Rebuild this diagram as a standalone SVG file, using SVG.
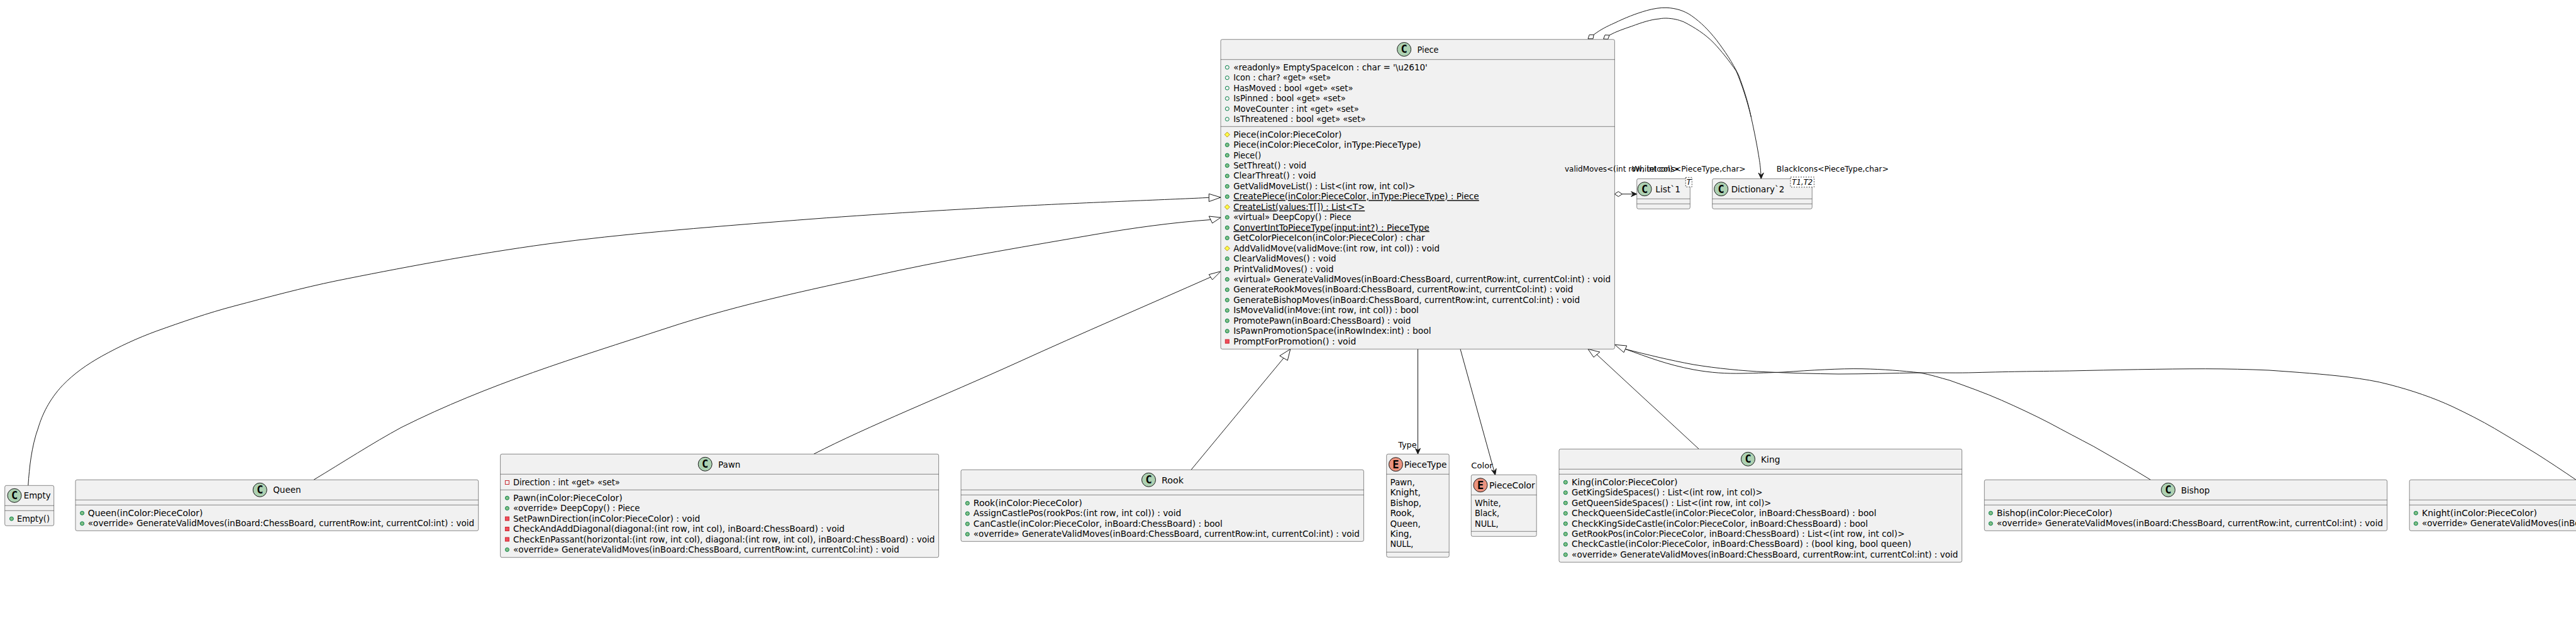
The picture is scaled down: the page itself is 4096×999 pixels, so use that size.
<svg xmlns="http://www.w3.org/2000/svg" width="4096" height="999" viewBox="0 0 4096 999">
<style>
text{font-family:"DejaVu Sans","Liberation Sans",sans-serif;font-size:14px;fill:#000}
.lbl{font-size:13px}
.u{text-decoration:underline}
.box{fill:#F1F1F1;stroke:#181818;stroke-width:.5}
.div{stroke:#181818;stroke-width:.5;fill:none}
.cc{fill:#ADD1B2;stroke:#181818;stroke-width:1}
.ce{fill:#EB937F;stroke:#181818;stroke-width:1}
.ic{font-family:"DejaVu Sans Mono","Liberation Mono",monospace;font-weight:bold;font-size:17px;text-anchor:middle}
.link{fill:none;stroke:#181818;stroke-width:1}
.gen{fill:#fff;stroke:#181818;stroke-width:1}
.hd{fill:#181818;stroke:#181818;stroke-width:1}
.tp{fill:#fff;stroke:#181818;stroke-width:.8;stroke-dasharray:2,2}
.tt{font-style:italic;font-size:12px;text-anchor:middle}
</style>
<defs>
<circle id="pub" r="3" fill="#84BE84" stroke="#038048"/>
<circle id="fld" r="3" fill="none" stroke="#038048"/>
<path id="pro" d="M0,-4 L4,0 L0,4 L-4,0 Z" fill="#FFFF44" stroke="#B38D22"/>
<rect id="pri" x="-3" y="-3" width="6" height="6" fill="#F24D5C" stroke="#C82930"/>
<rect id="prf" x="-3" y="-3" width="6" height="6" fill="none" stroke="#C82930"/>
</defs>
<rect width="4096" height="999" fill="#fff"/>
<g id="connectors">
<path class="link" d="M44.8,772 C46.5,745 50,710 61,680 C67,660 78,636 99.5,613 C118,594 138,580 161.7,566.7 C190,551 218,538 248.8,526.7 C290,512 330,498 373,486.7 C425,473 480,458 535,446.7 C628,428 753,404 871,388 C989,372 1120,362 1244,352 C1368,342 1504,334 1617,328 C1730,322 1871,317 1922,314.3"/>
<polygon class="gen" points="1941,314 1922.3,308.3 1922.3,320.7"/>
<path class="link" d="M498.8,763.3 C545,735.5 592,705 638,680 C778,610 917,569 1057,523 C1181,482 1306,457 1430,430 C1534,408 1637,391 1741,373 C1802,362.5 1864,354 1925,349.5"/>
<polygon class="gen" points="1941,346 1922.3,344 1927.7,355"/>
<path class="link" d="M1294,722.3 C1380,678 1500,630 1617,577 C1720,530 1830,483 1925,440.8"/>
<polygon class="gen" points="1941,431.7 1922.3,436.7 1927.7,445"/>
<path class="link" d="M1894,747.3 L2041,569.7"/>
<polygon class="gen" points="2051.8,555.3 2034.8,566 2047.3,573.3"/>
<path class="link" d="M2254.5,555.3 L2254.5,722.3"/>
<polygon class="hd" points="2254.5,722.3 2250.5,713.3 2254.5,716.3 2258.5,713.3"/>
<path class="link" d="M2322,555.3 L2377.5,755.7"/>
<polygon class="hd" points="2377.5,755.7 2371.5,747.5 2375.9,750 2379.2,745.4"/>
<path class="link" d="M2701,714 L2539,564"/>
<polygon class="gen" points="2525,555.3 2543.8,560 2534,568.3"/>
<path class="link" d="M3419.6,763.3 C3390,745 3360,728 3328.7,710 C3306,698 3283,686 3259,673 C3234,660 3208,648 3182.6,636.7 C3156,625 3128,615 3100,605 C3085,601 3070,596 3053,593 C3025,590 2995,587.3 2961,586.7 C2925,586 2880,589 2835,592 C2815,592.8 2795,593.5 2770,594 C2745,594.5 2720,593 2693,588 C2650,580 2620,568 2584.4,555.3"/>
<path class="link" d="M4096,763.3 C4075,749 4054,735 4033,721.7 C4011,708 3989,695 3966.7,681.7 C3945,669 3923,658 3900,647 C3870,633 3835,621 3799,611.7 C3778,606 3757,603 3735,600 C3695,595 3650,592 3608,589 C3575,587.5 3540,586.7 3506.6,586.7 C3440,586.7 3360,588.5 3290.6,590 C3250,590.5 3200,591 3140,592.7 C3115,593.5 3085,592.8 3053,593 C3010,593.5 2965,595 2923,595 C2885,594.5 2845,593.5 2808,591.7 C2770,590 2730,586 2693,580 C2655,573 2618,564 2584.4,555.3"/>
<polygon class="gen" points="2567.6,548.3 2586.7,550 2582,560.7"/>
<path class="link" d="M2534,55.3 C2545,47 2555,42 2567,36.7 C2585,28 2600,22 2618.4,16.7 C2630,13.5 2640,12 2650,12.3 C2665,13 2678,17 2689.6,25 C2705,36 2716,47 2729,63.3 C2743,82 2754,98 2764.7,120 C2772,140 2779,160 2784.5,186.7 C2789,207 2793,227 2796.3,246.7 C2798,258 2799.5,265 2800.3,284.3"/>
<path class="link" d="M2559,56 C2570,50 2582,46 2594.7,41.7 C2610,36 2625,31 2638,30 C2643,29 2646,29 2650,29 C2660,29.5 2668,31 2677.7,35 C2695,44 2711,54 2725,68.3 C2737,81 2749,96 2760.7,113 C2770,135 2778,160 2784.5,186.7"/>
<polygon class="hd" points="2800.3,284.3 2796,275 2800.3,278.5 2804.3,275"/>
<polygon class="gen" points="2525,61.7 2527.2,55.3 2534.2,55.3 2533,61.7"/>
<polygon class="gen" points="2549.6,62 2552,55.7 2559,56 2556.7,62.3"/>
<path class="link" d="M2579,308.7 L2602,308.7"/>
<polygon class="hd" points="2602.7,308.7 2593.7,304.7 2596.7,308.7 2593.7,312.7"/>
<polygon class="gen" points="2567.3,308.7 2573.3,304.7 2579.3,308.7 2573.3,312.7"/>
</g>
<g id="Piece">
<rect class="box" x="1941" y="62.7" width="626.4" height="492.6" rx="2.5"/>
<path class="div" d="M1941,94.7H2567.4M1941,201.3H2567.4"/>
<circle class="cc" cx="2232.6" cy="78.5" r="11"/><text class="ic" x="2232.6" y="84.2">C</text>
<text x="2253.6" y="84" textLength="33.9" lengthAdjust="spacingAndGlyphs">Piece</text>
<use href="#fld" x="1951.3" y="107.2"/><text x="1961.2" y="111.7" textLength="308.5" lengthAdjust="spacingAndGlyphs">«readonly» EmptySpaceIcon : char = '\u2610'</text>
<use href="#fld" x="1951.3" y="123.7"/><text x="1961.2" y="128.2" textLength="154.9" lengthAdjust="spacingAndGlyphs">Icon : char? «get» «set»</text>
<use href="#fld" x="1951.3" y="140.1"/><text x="1961.2" y="144.6" textLength="190.2" lengthAdjust="spacingAndGlyphs">HasMoved : bool «get» «set»</text>
<use href="#fld" x="1951.3" y="156.6"/><text x="1961.2" y="161.1" textLength="178.6" lengthAdjust="spacingAndGlyphs">IsPinned : bool «get» «set»</text>
<use href="#fld" x="1951.3" y="173"/><text x="1961.2" y="177.5" textLength="199.6" lengthAdjust="spacingAndGlyphs">MoveCounter : int «get» «set»</text>
<use href="#fld" x="1951.3" y="189.5"/><text x="1961.2" y="194" textLength="210.3" lengthAdjust="spacingAndGlyphs">IsThreatened : bool «get» «set»</text>
<use href="#pro" x="1951.3" y="214.1"/><text x="1961.2" y="218.6" textLength="172.3" lengthAdjust="spacingAndGlyphs">Piece(inColor:PieceColor)</text>
<use href="#pub" x="1951.3" y="230.5"/><text x="1961.2" y="235" textLength="298.2" lengthAdjust="spacingAndGlyphs">Piece(inColor:PieceColor, inType:PieceType)</text>
<use href="#pub" x="1951.3" y="247"/><text x="1961.2" y="251.5" textLength="44.2" lengthAdjust="spacingAndGlyphs">Piece()</text>
<use href="#pub" x="1951.3" y="263.4"/><text x="1961.2" y="267.9" textLength="116" lengthAdjust="spacingAndGlyphs">SetThreat() : void</text>
<use href="#pub" x="1951.3" y="279.9"/><text x="1961.2" y="284.4" textLength="131.3" lengthAdjust="spacingAndGlyphs">ClearThreat() : void</text>
<use href="#pub" x="1951.3" y="296.4"/><text x="1961.2" y="300.9" textLength="289.3" lengthAdjust="spacingAndGlyphs">GetValidMoveList() : List&lt;(int row, int col)&gt;</text>
<use href="#pub" x="1951.3" y="312.8"/><text class="u" x="1961.2" y="317.3" textLength="390.6" lengthAdjust="spacingAndGlyphs">CreatePiece(inColor:PieceColor, inType:PieceType) : Piece</text>
<use href="#pro" x="1951.3" y="329.3"/><text class="u" x="1961.2" y="333.8" textLength="209" lengthAdjust="spacingAndGlyphs">CreateList(values:T[]) : List&lt;T&gt;</text>
<use href="#pub" x="1951.3" y="345.7"/><text x="1961.2" y="350.2" textLength="187.5" lengthAdjust="spacingAndGlyphs">«virtual» DeepCopy() : Piece</text>
<use href="#pub" x="1951.3" y="362.2"/><text class="u" x="1961.2" y="366.7" textLength="311.6" lengthAdjust="spacingAndGlyphs">ConvertIntToPieceType(input:int?) : PieceType</text>
<use href="#pub" x="1951.3" y="378.6"/><text x="1961.2" y="383.1" textLength="304.5" lengthAdjust="spacingAndGlyphs">GetColorPieceIcon(inColor:PieceColor) : char</text>
<use href="#pro" x="1951.3" y="395.1"/><text x="1961.2" y="399.6" textLength="328" lengthAdjust="spacingAndGlyphs">AddValidMove(validMove:(int row, int col)) : void</text>
<use href="#pub" x="1951.3" y="411.5"/><text x="1961.2" y="416" textLength="163.4" lengthAdjust="spacingAndGlyphs">ClearValidMoves() : void</text>
<use href="#pub" x="1951.3" y="428"/><text x="1961.2" y="432.5" textLength="159.4" lengthAdjust="spacingAndGlyphs">PrintValidMoves() : void</text>
<use href="#pub" x="1951.3" y="444.4"/><text x="1961.2" y="448.9" textLength="600" lengthAdjust="spacingAndGlyphs">«virtual» GenerateValidMoves(inBoard:ChessBoard, currentRow:int, currentCol:int) : void</text>
<use href="#pub" x="1951.3" y="460.9"/><text x="1961.2" y="465.4" textLength="540.2" lengthAdjust="spacingAndGlyphs">GenerateRookMoves(inBoard:ChessBoard, currentRow:int, currentCol:int) : void</text>
<use href="#pub" x="1951.3" y="477.3"/><text x="1961.2" y="481.8" textLength="551" lengthAdjust="spacingAndGlyphs">GenerateBishopMoves(inBoard:ChessBoard, currentRow:int, currentCol:int) : void</text>
<use href="#pub" x="1951.3" y="493.8"/><text x="1961.2" y="498.3" textLength="294.6" lengthAdjust="spacingAndGlyphs">IsMoveValid(inMove:(int row, int col)) : bool</text>
<use href="#pub" x="1951.3" y="510.2"/><text x="1961.2" y="514.7" textLength="282.2" lengthAdjust="spacingAndGlyphs">PromotePawn(inBoard:ChessBoard) : void</text>
<use href="#pub" x="1951.3" y="526.7"/><text x="1961.2" y="531.2" textLength="314.3" lengthAdjust="spacingAndGlyphs">IsPawnPromotionSpace(inRowIndex:int) : bool</text>
<use href="#pri" x="1951.3" y="543.1"/><text x="1961.2" y="547.6" textLength="195" lengthAdjust="spacingAndGlyphs">PromptForPromotion() : void</text>
</g>
<g id="List1">
<rect class="box" x="2602.7" y="284.3" width="84.6" height="48" rx="2.5"/>
<path class="div" d="M2602.7,316.3H2687.3M2602.7,324.3H2687.3"/>
<rect class="tp" x="2680.3" y="282.3" width="10" height="15"/><text class="tt" x="2685.3" y="293.5">T</text>
<circle class="cc" cx="2615" cy="300.7" r="11"/><text class="ic" x="2615" y="306.5">C</text>
<text x="2632.3" y="306" textLength="39.7" lengthAdjust="spacingAndGlyphs">List`1</text>
</g>
<g id="Dictionary2">
<rect class="box" x="2722.7" y="284.3" width="158.6" height="48" rx="2.5"/>
<path class="div" d="M2722.7,316.3H2881.3M2722.7,324.3H2881.3"/>
<rect class="tp" x="2847" y="281.7" width="37.5" height="16"/><text class="tt" x="2865.8" y="293.5" textLength="33" lengthAdjust="spacingAndGlyphs">T1,T2</text>
<circle class="cc" cx="2736.7" cy="300.7" r="11"/><text class="ic" x="2736.7" y="306.5">C</text>
<text x="2752.7" y="306" textLength="84.6" lengthAdjust="spacingAndGlyphs">Dictionary`2</text>
</g>
<g id="Empty">
<rect class="box" x="7.7" y="772.3" width="78" height="64" rx="2.5"/>
<path class="div" d="M7.7,804.3H85.7M7.7,812.3H85.7"/>
<circle class="cc" cx="23" cy="788.3" r="11"/><text class="ic" x="23" y="794">C</text>
<text x="37.8" y="793.3" textLength="42.8" lengthAdjust="spacingAndGlyphs">Empty</text>
<use href="#pub" x="18.4" y="825.2"/><text x="27" y="829.7" textLength="52" lengthAdjust="spacingAndGlyphs">Empty()</text>
</g>
<g id="Queen">
<rect class="box" x="120" y="763.3" width="640.7" height="81" rx="2.5"/>
<path class="div" d="M120,795.3H760.7M120,803.3H760.7"/>
<circle class="cc" cx="413.3" cy="779.3" r="11"/><text class="ic" x="413.3" y="785">C</text>
<text x="434.2" y="784" textLength="44.4" lengthAdjust="spacingAndGlyphs">Queen</text>
<use href="#pub" x="130.6" y="816.2"/><text x="139.8" y="820.7" textLength="182.6" lengthAdjust="spacingAndGlyphs">Queen(inColor:PieceColor)</text>
<use href="#pub" x="130.6" y="832.8"/><text x="139.8" y="837.3" textLength="614.3" lengthAdjust="spacingAndGlyphs">«override» GenerateValidMoves(inBoard:ChessBoard, currentRow:int, currentCol:int) : void</text>
</g>
<g id="Pawn">
<rect class="box" x="795.6" y="722.3" width="697" height="164.4" rx="2.5"/>
<path class="div" d="M795.6,754.3H1492.6M795.6,779.3H1492.6"/>
<circle class="cc" cx="1121.2" cy="738.3" r="11"/><text class="ic" x="1121.2" y="744">C</text>
<text x="1142" y="744" textLength="35.3" lengthAdjust="spacingAndGlyphs">Pawn</text>
<use href="#prf" x="806.4" y="767.5"/><text x="815.9" y="772" textLength="169.9" lengthAdjust="spacingAndGlyphs">Direction : int «get» «set»</text>
<use href="#pub" x="806.4" y="792.2"/><text x="815.9" y="796.7" textLength="173.7" lengthAdjust="spacingAndGlyphs">Pawn(inColor:PieceColor)</text>
<use href="#pub" x="806.4" y="808.6"/><text x="815.9" y="813.1" textLength="201.5" lengthAdjust="spacingAndGlyphs">«override» DeepCopy() : Piece</text>
<use href="#pri" x="806.4" y="825.1"/><text x="815.9" y="829.6" textLength="297.3" lengthAdjust="spacingAndGlyphs">SetPawnDirection(inColor:PieceColor) : void</text>
<use href="#pri" x="806.4" y="841.5"/><text x="815.9" y="846" textLength="527.1" lengthAdjust="spacingAndGlyphs">CheckAndAddDiagonal(diagonal:(int row, int col), inBoard:ChessBoard) : void</text>
<use href="#pri" x="806.4" y="858"/><text x="815.9" y="862.5" textLength="670.6" lengthAdjust="spacingAndGlyphs">CheckEnPassant(horizontal:(int row, int col), diagonal:(int row, int col), inBoard:ChessBoard) : void</text>
<use href="#pub" x="806.4" y="874.4"/><text x="815.9" y="878.9" textLength="614" lengthAdjust="spacingAndGlyphs">«override» GenerateValidMoves(inBoard:ChessBoard, currentRow:int, currentCol:int) : void</text>
</g>
<g id="Rook">
<rect class="box" x="1528" y="747.3" width="640.4" height="114" rx="2.5"/>
<path class="div" d="M1528,779.3H2168.4M1528,787.3H2168.4"/>
<circle class="cc" cx="1826.5" cy="763.3" r="11"/><text class="ic" x="1826.5" y="769">C</text>
<text x="1847" y="769" textLength="35" lengthAdjust="spacingAndGlyphs">Rook</text>
<use href="#pub" x="1538.3" y="800.5"/><text x="1547.8" y="805" textLength="172.8" lengthAdjust="spacingAndGlyphs">Rook(inColor:PieceColor)</text>
<use href="#pub" x="1538.3" y="816.9"/><text x="1547.8" y="821.4" textLength="330.4" lengthAdjust="spacingAndGlyphs">AssignCastlePos(rookPos:(int row, int col)) : void</text>
<use href="#pub" x="1538.3" y="833.4"/><text x="1547.8" y="837.9" textLength="396" lengthAdjust="spacingAndGlyphs">CanCastle(inColor:PieceColor, inBoard:ChessBoard) : bool</text>
<use href="#pub" x="1538.3" y="849.8"/><text x="1547.8" y="854.3" textLength="614" lengthAdjust="spacingAndGlyphs">«override» GenerateValidMoves(inBoard:ChessBoard, currentRow:int, currentCol:int) : void</text>
</g>
<g id="PieceType">
<rect class="box" x="2204.7" y="722.3" width="99.5" height="164" rx="2.5"/>
<path class="div" d="M2204.7,754.3H2304.2M2204.7,878.3H2304.2"/>
<circle class="ce" cx="2219.4" cy="738.7" r="11"/><text class="ic" x="2219.4" y="744.5">E</text>
<text x="2232.8" y="744" textLength="67.6" lengthAdjust="spacingAndGlyphs">PieceType</text>
<text x="2210.4" y="771.7" textLength="39.5" lengthAdjust="spacingAndGlyphs">Pawn,</text>
<text x="2210.4" y="788.2" textLength="48.5" lengthAdjust="spacingAndGlyphs">Knight,</text>
<text x="2210.4" y="804.6" textLength="49.7" lengthAdjust="spacingAndGlyphs">Bishop,</text>
<text x="2210.4" y="821.1" textLength="38.9" lengthAdjust="spacingAndGlyphs">Rook,</text>
<text x="2210.4" y="837.5" textLength="48.5" lengthAdjust="spacingAndGlyphs">Queen,</text>
<text x="2210.4" y="854" textLength="34.4" lengthAdjust="spacingAndGlyphs">King,</text>
<text x="2210.4" y="870.4" textLength="37" lengthAdjust="spacingAndGlyphs">NULL,</text>
</g>
<g id="PieceColor">
<rect class="box" x="2339.3" y="755.3" width="103.9" height="98" rx="2.5"/>
<path class="div" d="M2339.3,787.3H2443.2M2339.3,845.3H2443.2"/>
<circle class="ce" cx="2354" cy="771.7" r="11"/><text class="ic" x="2354" y="777.5">E</text>
<text x="2368" y="777" textLength="72.7" lengthAdjust="spacingAndGlyphs">PieceColor</text>
<text x="2345" y="804.7" textLength="41.5" lengthAdjust="spacingAndGlyphs">White,</text>
<text x="2345" y="821.2" textLength="39" lengthAdjust="spacingAndGlyphs">Black,</text>
<text x="2345" y="837.6" textLength="37.6" lengthAdjust="spacingAndGlyphs">NULL,</text>
</g>
<g id="King">
<rect class="box" x="2479" y="714.3" width="640.6" height="180" rx="2.5"/>
<path class="div" d="M2479,746.3H3119.6M2479,754.3H3119.6"/>
<circle class="cc" cx="2779.5" cy="730.3" r="11"/><text class="ic" x="2779.5" y="736">C</text>
<text x="2800" y="736" textLength="30.4" lengthAdjust="spacingAndGlyphs">King</text>
<use href="#pub" x="2489.3" y="767.2"/><text x="2499.1" y="771.7" textLength="168.3" lengthAdjust="spacingAndGlyphs">King(inColor:PieceColor)</text>
<use href="#pub" x="2489.3" y="783.7"/><text x="2499.1" y="788.2" textLength="303.6" lengthAdjust="spacingAndGlyphs">GetKingSideSpaces() : List&lt;(int row, int col)&gt;</text>
<use href="#pub" x="2489.3" y="800.1"/><text x="2499.1" y="804.6" textLength="317.4" lengthAdjust="spacingAndGlyphs">GetQueenSideSpaces() : List&lt;(int row, int col)&gt;</text>
<use href="#pub" x="2489.3" y="816.6"/><text x="2499.1" y="821.1" textLength="484.4" lengthAdjust="spacingAndGlyphs">CheckQueenSideCastle(inColor:PieceColor, inBoard:ChessBoard) : bool</text>
<use href="#pub" x="2489.3" y="833"/><text x="2499.1" y="837.5" textLength="471" lengthAdjust="spacingAndGlyphs">CheckKingSideCastle(inColor:PieceColor, inBoard:ChessBoard) : bool</text>
<use href="#pub" x="2489.3" y="849.5"/><text x="2499.1" y="854" textLength="529.5" lengthAdjust="spacingAndGlyphs">GetRookPos(inColor:PieceColor, inBoard:ChessBoard) : List&lt;(int row, int col)&gt;</text>
<use href="#pub" x="2489.3" y="865.9"/><text x="2499.1" y="870.4" textLength="540" lengthAdjust="spacingAndGlyphs">CheckCastle(inColor:PieceColor, inBoard:ChessBoard) : (bool king, bool queen)</text>
<use href="#pub" x="2489.3" y="882.4"/><text x="2499.1" y="886.9" textLength="614.3" lengthAdjust="spacingAndGlyphs">«override» GenerateValidMoves(inBoard:ChessBoard, currentRow:int, currentCol:int) : void</text>
</g>
<g id="Bishop">
<rect class="box" x="3155.3" y="763.3" width="640.4" height="81" rx="2.5"/>
<path class="div" d="M3155.3,795.3H3795.7M3155.3,803.3H3795.7"/>
<circle class="cc" cx="3447.5" cy="779.3" r="11"/><text class="ic" x="3447.5" y="785">C</text>
<text x="3467.9" y="785" textLength="45.7" lengthAdjust="spacingAndGlyphs">Bishop</text>
<use href="#pub" x="3165.4" y="816.2"/><text x="3175" y="820.7" textLength="183.6" lengthAdjust="spacingAndGlyphs">Bishop(inColor:PieceColor)</text>
<use href="#pub" x="3165.4" y="832.8"/><text x="3175" y="837.3" textLength="614" lengthAdjust="spacingAndGlyphs">«override» GenerateValidMoves(inBoard:ChessBoard, currentRow:int, currentCol:int) : void</text>
</g>
<g id="Knight">
<rect class="box" x="3831.2" y="763.3" width="640.4" height="81" rx="2.5"/>
<path class="div" d="M3831.2,795.3H4471.6M3831.2,803.3H4471.6"/>
<use href="#pub" x="3841.4" y="816.2"/><text x="3851" y="820.7" textLength="183" lengthAdjust="spacingAndGlyphs">Knight(inColor:PieceColor)</text>
<use href="#pub" x="3841.4" y="832.8"/><text x="3851" y="837.3" textLength="614" lengthAdjust="spacingAndGlyphs">«override» GenerateValidMoves(inBoard:ChessBoard, currentRow:int, currentCol:int) : void</text>
</g>
<g id="labels">
<text class="lbl" x="2488" y="273.3" textLength="182" lengthAdjust="spacingAndGlyphs">validMoves&lt;(int row, int col)&gt;</text>
<text class="lbl" x="2594.7" y="273.3" textLength="181" lengthAdjust="spacingAndGlyphs">WhiteIcons&lt;PieceType,char&gt;</text>
<text class="lbl" x="2824.8" y="273.3" textLength="178.2" lengthAdjust="spacingAndGlyphs">BlackIcons&lt;PieceType,char&gt;</text>
<text class="lbl" x="2223.2" y="712" textLength="29.3" lengthAdjust="spacingAndGlyphs">Type</text>
<text class="lbl" x="2339.3" y="745" textLength="34.4" lengthAdjust="spacingAndGlyphs">Color</text>
</g>
</svg>
